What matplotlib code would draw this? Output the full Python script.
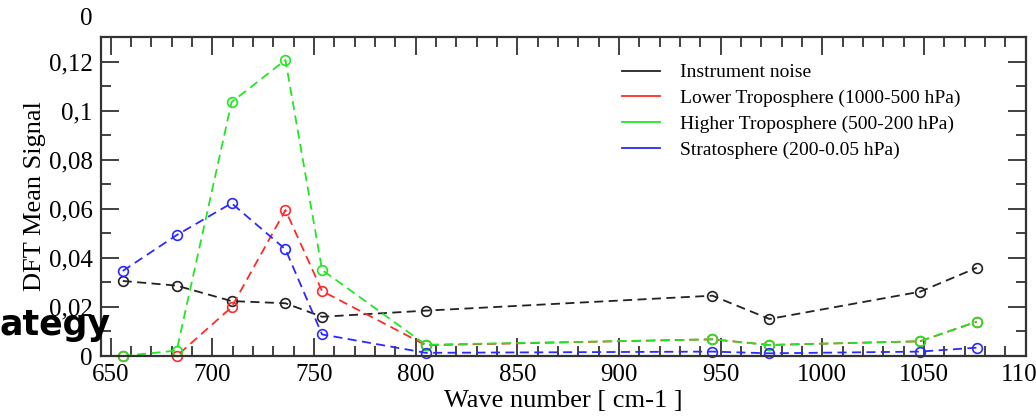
import matplotlib.pyplot as plt
from matplotlib.lines import Line2D
from matplotlib.ticker import MultipleLocator, FuncFormatter

# channel wave numbers [cm-1]
wave_number = [656, 682.5, 709.5, 736, 754, 805, 946, 974, 1048, 1076]

noise = [0.0306, 0.0287, 0.0224, 0.0215, 0.0160, 0.0185, 0.0246, 0.0151, 0.0262, 0.0360]
lower_tropo = [0.0, 0.0, 0.0199, 0.0595, 0.0265, 0.0044, 0.0068, 0.0045, 0.0060, 0.0140]
higher_tropo = [0.0, 0.0022, 0.1035, 0.1207, 0.0351, 0.0046, 0.0068, 0.0045, 0.0060, 0.0140]
strato = [0.0347, 0.0493, 0.0623, 0.0435, 0.0088, 0.0013, 0.0018, 0.0011, 0.0018, 0.0034]

labels = ["Instrument noise",
          "Lower Troposphere (1000-500 hPa)",
          "Higher Troposphere (500-200 hPa)",
          "Stratosphere (200-0.05 hPa)"]
colors = ["#222222", "#ff2a2a", "#22e622", "#2a2aff"]

plt.rcParams['font.family'] = ['Liberation Serif', 'DejaVu Serif']

fig = plt.figure(figsize=(10.36, 4.18), dpi=100)
ax = fig.add_axes([0.0975, 0.1483, 0.8925, 0.7639])

series = [noise, lower_tropo, higher_tropo, strato]
for vals, col in zip(series, colors):
    ax.plot(wave_number, vals, linestyle=(0, (5, 3)), color=col, lw=1.3,
            marker='o', markersize=7, markerfacecolor='none',
            markeredgecolor=col, markeredgewidth=1.2, clip_on=False)

ax.set_xlim(645.3, 1100)
ax.set_ylim(0, 0.1302)
ax.xaxis.set_major_locator(MultipleLocator(50))
ax.xaxis.set_minor_locator(MultipleLocator(10))
ax.yaxis.set_major_locator(MultipleLocator(0.02))
ax.yaxis.set_minor_locator(MultipleLocator(0.01))


def comma_fmt(v, pos):
    if abs(v) < 1e-9:
        return "0"
    s = ("%.2f" % v).rstrip('0').rstrip('.')
    return s.replace('.', ',')


ax.yaxis.set_major_formatter(FuncFormatter(comma_fmt))
ax.tick_params(which='both', direction='in', top=True, right=True,
               labelsize=18, width=1.3, color='#333333')
ax.tick_params(which='major', length=13)
ax.tick_params(which='minor', length=7)
ax.tick_params(axis='x', pad=6)
ax.tick_params(axis='y', pad=6)
for sp in ax.spines.values():
    sp.set_linewidth(1.6)
    sp.set_color('#333333')

ax.set_xlabel("Wave number [ cm-1 ]", fontsize=19, labelpad=0)
ax.xaxis.set_label_coords(0.5, -0.105)
ax.set_ylabel("DFT Mean Signal", fontsize=19, labelpad=2)

handles = [Line2D([], [], color=c, lw=1.3) for c in colors]
ax.legend(handles, labels, loc='upper left', bbox_to_anchor=(0.563, 0.915),
          frameon=False, fontsize=14, handlelength=2.0, handletextpad=1.0,
          labelspacing=0.42, borderpad=0, borderaxespad=0)

# leftovers of the surrounding page
fig.text(0.083, 0.955, "0", fontsize=18, ha='center', va='center')
fig.text(0.107, 0.222, "ategy", fontsize=25, fontweight='bold', ha='right',
         va='center', family=['DejaVu Sans'])

fig.savefig("out.png", dpi=100)
